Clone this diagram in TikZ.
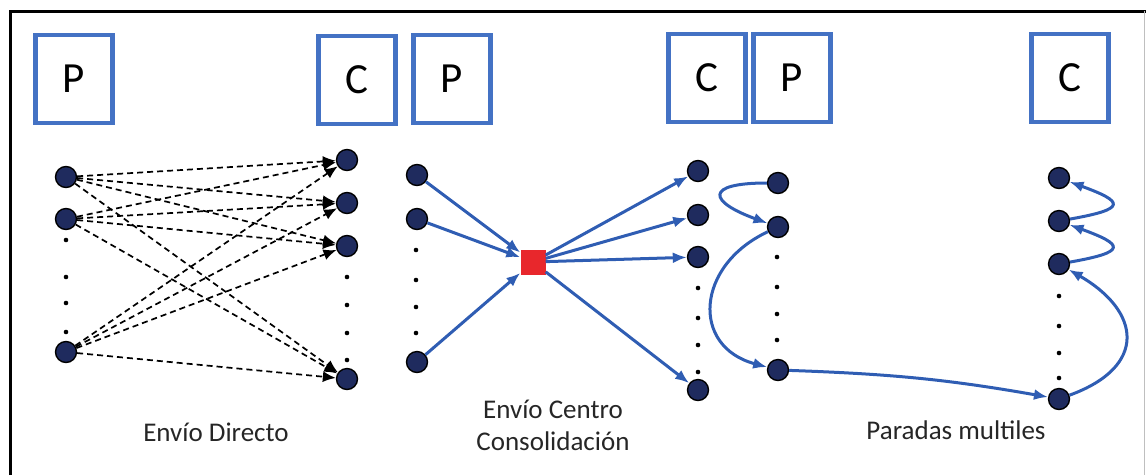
\documentclass[tikz,border=0pt]{standalone}
\usepackage{fontspec}
\setmainfont{Carlito}
\usetikzlibrary{arrows.meta}
\definecolor{boxblue}{HTML}{4472C4}
\definecolor{linkblue}{HTML}{2F5DB3}
\definecolor{stopnavy}{HTML}{1F2B5E}
\definecolor{hubred}{HTML}{E8272C}
\begin{document}
\begin{tikzpicture}
[x=1pt,y=-1pt,
 stop/.style={circle,draw=black,fill=stopnavy,line width=1.4pt,minimum size=21pt,inner sep=0pt},
 actor/.style={draw=boxblue,line width=4.5pt,minimum width=77pt,minimum height=88pt,inner sep=0pt,font=\fontsize{43}{46}\selectfont},
 caption/.style={font=\fontsize{27}{32}\selectfont,align=center,text=black!85},
 direct/.style={dash pattern=on 6pt off 4pt,line width=1.7pt,-{Latex[length=13pt,width=11pt]}},
 link/.style={draw=linkblue,line width=3pt,-{Latex[length=14pt,width=11pt]}}]
\useasboundingbox (0,0) rectangle (1146,475);
\draw[line width=3pt] (10.5,475) -- (10.5,11) -- (1146,11);
\draw[black!25,line width=1pt] (1144,11) -- (1144,475);
\node[actor] (pA) at (74,79) {P};
\node[actor] (cA) at (357,80) {C};
\node[actor] (pB) at (452,79) {P};
\node[actor] (cB) at (707,78) {C};
\node[actor] (pC) at (792,78) {P};
\node[actor] (cC) at (1070,78) {C};
\foreach \n/\y in {1/177,2/219,3/352} \node[stop] (dp\n) at (66,\y) {};
\foreach \n/\y in {1/160,2/203,3/246,4/379} \node[stop] (dc\n) at (347,\y) {};
\foreach \y in {240,277,303,332} \fill (66,\y) circle (2.3pt);
\foreach \y in {277,305,333,360} \fill (347,\y) circle (2.3pt);
\foreach \i in {1,2,3} \foreach \j in {1,...,4} \draw[direct] (dp\i) -- (dc\j);
\node[caption] (directo) at (216,432) {Envío Directo};
\foreach \n/\y in {1/175,2/219,3/362} \node[stop] (hp\n) at (417,\y) {};
\foreach \n/\y in {1/171,2/215,3/257,4/390} \node[stop] (hc\n) at (698,\y) {};
\foreach \y in {250,280,307,333} \fill (416,\y) circle (2.3pt);
\foreach \y in {288,318,345,372} \fill (698,\y) circle (2.3pt);
\node[fill=hubred,minimum size=25pt,inner sep=0pt] (hub) at (533,262) {};
\foreach \i in {1,2,3} \draw[link] (hp\i) -- (hub);
\foreach \j in {1,...,4} \draw[link] (hub) -- (hc\j);
\node[caption] (centro) at (553,425) {Envío Centro\\Consolidación};
\foreach \n/\y in {1/183,2/227,3/370} \node[stop] (mp\n) at (778,\y) {};
\foreach \n/\y in {1/178,2/221,3/264,4/399} \node[stop] (mc\n) at (1059,\y) {};
\foreach \y in {257,287,314,340} \fill (777,\y) circle (2.3pt);
\foreach \y in {296,326,353,378} \fill (1059,\y) circle (2.3pt);
\draw[link] (mp1) to[out=180,in=160,looseness=4] (mp2);
\draw[link] (mp2) to[out=205,in=165,looseness=1.5] (mp3);
\draw[link] (mp3) to[out=-2,in=170] (mc4);
\draw[link] (mc4) to[out=20,in=-30,looseness=1.7] (mc3);
\draw[link] (mc3) to[out=10,in=-20,looseness=4] (mc2);
\draw[link] (mc2) to[out=10,in=-20,looseness=4] (mc1);
\node[caption] (paradas) at (956,430) {Paradas multiles};
\end{tikzpicture}
\end{document}
